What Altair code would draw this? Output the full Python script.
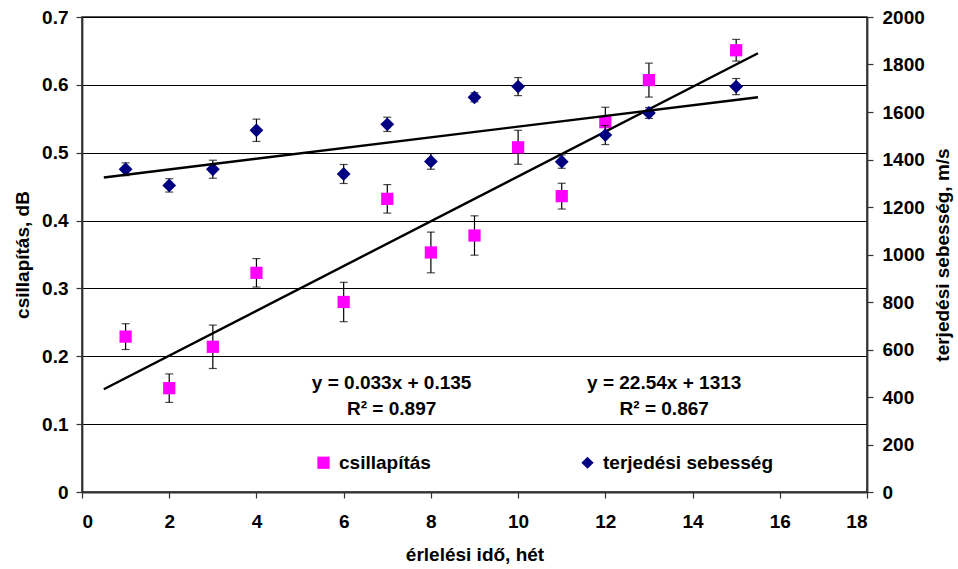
import altair as alt
import pandas as pd

# Maturation time (weeks) and the two measured quantities with their error bars
weeks = [1, 2, 3, 4, 6, 7, 8, 9, 10, 11, 12, 13, 15]
attenuation = [0.229, 0.153, 0.214, 0.323, 0.280, 0.432, 0.353, 0.378, 0.508, 0.436, 0.545, 0.607, 0.651]
attenuation_err = [0.019, 0.021, 0.032, 0.021, 0.029, 0.021, 0.030, 0.029, 0.025, 0.019, 0.022, 0.025, 0.016]
velocity = [1359, 1291, 1359, 1523, 1339, 1548, 1392, 1662, 1707, 1391, 1503, 1596, 1707]
velocity_err = [27, 28, 38, 47, 40, 30, 33, 19, 38, 28, 40, 23, 34]

series_names = ["csillapítás", "terjedési sebesség"]
series_colors = ["#FF00FF", "#000080"]
series_shapes = ["square", "diamond"]

# Linear fits (slope, intercept, R²) and the x range they are drawn over
fit_slopes = [0.033, 22.54]
fit_intercepts = [0.135, 1313]
fit_r2 = [0.897, 0.867]
fit_range = [0.5, 15.5]

# Label anchors for the fit equations (x in weeks, y in each series' own units)
eq_x = [7.1, 13.35]
eq_y = [[0.161, 0.122], [460, 349]]

FONT = "Liberation Sans"
FS = 19

att_df = pd.DataFrame({
    "week": weeks,
    "value": attenuation,
    "lo": [v - e for v, e in zip(attenuation, attenuation_err)],
    "hi": [v + e for v, e in zip(attenuation, attenuation_err)],
    "series": series_names[0],
})
vel_df = pd.DataFrame({
    "week": weeks,
    "value": velocity,
    "lo": [v - e for v, e in zip(velocity, velocity_err)],
    "hi": [v + e for v, e in zip(velocity, velocity_err)],
    "series": series_names[1],
})


def fit_frame(i):
    return pd.DataFrame({
        "week": fit_range,
        "value": [fit_slopes[i] * x + fit_intercepts[i] for x in fit_range],
    })


def eq_frame(i, fmt_slope, fmt_int):
    lines = [
        f"y = {fmt_slope.format(fit_slopes[i])}x + {fmt_int.format(fit_intercepts[i])}",
        f"R² = {fit_r2[i]:.3f}",
    ]
    return pd.DataFrame({"week": [eq_x[i]] * 2, "value": eq_y[i], "label": lines})


x_enc = alt.X(
    "week:Q",
    scale=alt.Scale(domain=[0, 18], nice=False),
    axis=alt.Axis(
        title="érlelési idő, hét",
        values=list(range(0, 19, 2)),
        grid=False,
        tickSize=6,
        labelPadding=14,
        titlePadding=14,
    ),
)

color_enc = alt.Color(
    "series:N",
    scale=alt.Scale(domain=series_names, range=series_colors),
    legend=alt.Legend(
        title=None,
        orient="none",
        direction="horizontal",
        legendX=232,
        legendY=436,
        columnPadding=147,
        labelOffset=6,
        labelLimit=400,
        symbolSize=150,
        symbolStrokeWidth=0,
        labelFont=FONT,
        labelFontSize=FS,
        labelFontWeight="bold",
        labelColor="black",
        padding=0,
    ),
)
shape_enc = alt.Shape(
    "series:N",
    scale=alt.Scale(domain=series_names, range=series_shapes),
    legend=None,
)

# ---- left axis: attenuation ----
y_left_scale = alt.Scale(domain=[0, 0.7], nice=False)
y_left_axis = alt.Axis(
    title="csillapítás, dB",
    orient="left",
    values=[i / 10 for i in range(8)],
    format=".1~f",
    grid=True,
    gridColor="black",
    gridWidth=1,
    tickSize=6,
    labelPadding=8,
    titlePadding=9,
)

att_base = alt.Chart(att_df)
att_bars = att_base.mark_rule(color="black", strokeWidth=1.2).encode(
    x=x_enc, y=alt.Y("lo:Q", scale=y_left_scale, axis=y_left_axis), y2="hi:Q"
)
att_caps_lo = att_base.mark_tick(color="black", orient="horizontal", size=8, thickness=1.2).encode(
    x="week:Q", y=alt.Y("lo:Q")
)
att_caps_hi = att_base.mark_tick(color="black", orient="horizontal", size=8, thickness=1.2).encode(
    x="week:Q", y=alt.Y("hi:Q")
)
att_pts = att_base.mark_point(filled=True, opacity=1, size=150).encode(
    x="week:Q", y=alt.Y("value:Q"), color=color_enc, shape=shape_enc
)
att_fit = alt.Chart(fit_frame(0)).mark_line(color="black", strokeWidth=2.4).encode(
    x="week:Q", y="value:Q"
)
att_eq = alt.Chart(eq_frame(0, "{:.3f}", "{:.3f}")).mark_text(
    font=FONT, fontSize=FS, fontWeight="bold", color="black", baseline="middle"
).encode(x="week:Q", y="value:Q", text="label:N")

left = alt.layer(att_bars, att_caps_lo, att_caps_hi, att_pts, att_fit, att_eq)

# ---- right axis: propagation velocity ----
y_right_scale = alt.Scale(domain=[0, 2000], nice=False)
y_right_axis = alt.Axis(
    title="terjedési sebesség, m/s",
    orient="right",
    values=list(range(0, 2001, 200)),
    format="d",
    grid=False,
    tickSize=6,
    labelPadding=9,
    titlePadding=9,
    titleAngle=270,
    titleBaseline="top",
)

vel_base = alt.Chart(vel_df)
vel_bars = vel_base.mark_rule(color="black", strokeWidth=1.2).encode(
    x="week:Q", y=alt.Y("lo:Q", scale=y_right_scale, axis=y_right_axis), y2="hi:Q"
)
vel_caps_lo = vel_base.mark_tick(color="black", orient="horizontal", size=8, thickness=1.2).encode(
    x="week:Q", y=alt.Y("lo:Q")
)
vel_caps_hi = vel_base.mark_tick(color="black", orient="horizontal", size=8, thickness=1.2).encode(
    x="week:Q", y=alt.Y("hi:Q")
)
vel_pts = vel_base.mark_point(filled=True, opacity=1, size=190).encode(
    x="week:Q", y=alt.Y("value:Q"), color=color_enc, shape=shape_enc
)
vel_fit = alt.Chart(fit_frame(1)).mark_line(color="black", strokeWidth=2.4).encode(
    x="week:Q", y="value:Q"
)
vel_eq = alt.Chart(eq_frame(1, "{:.2f}", "{:.0f}")).mark_text(
    font=FONT, fontSize=FS, fontWeight="bold", color="black", baseline="middle"
).encode(x="week:Q", y="value:Q", text="label:N")

right = alt.layer(vel_bars, vel_caps_lo, vel_caps_hi, vel_pts, vel_fit, vel_eq)

chart = (
    alt.layer(left, right)
    .resolve_scale(y="independent")
    .properties(
        width=785,
        height=475,
        autosize=alt.AutoSizeParams(type="none"),
        padding={"left": 82, "top": 17, "right": 91, "bottom": 77},
        background="white",
    )
    .configure_view(stroke="#222222", strokeWidth=1.5)
    .configure_axis(
        labelFont=FONT,
        labelFontSize=FS,
        labelFontWeight="bold",
        labelColor="black",
        titleFont=FONT,
        titleFontSize=FS,
        titleFontWeight="bold",
        titleColor="black",
        domainColor="#333333",
        domainWidth=1.8,
        tickColor="#333333",
        tickWidth=1.2,
    )
)

chart.save("out.html", embed_options={"renderer": "svg", "actions": False})
